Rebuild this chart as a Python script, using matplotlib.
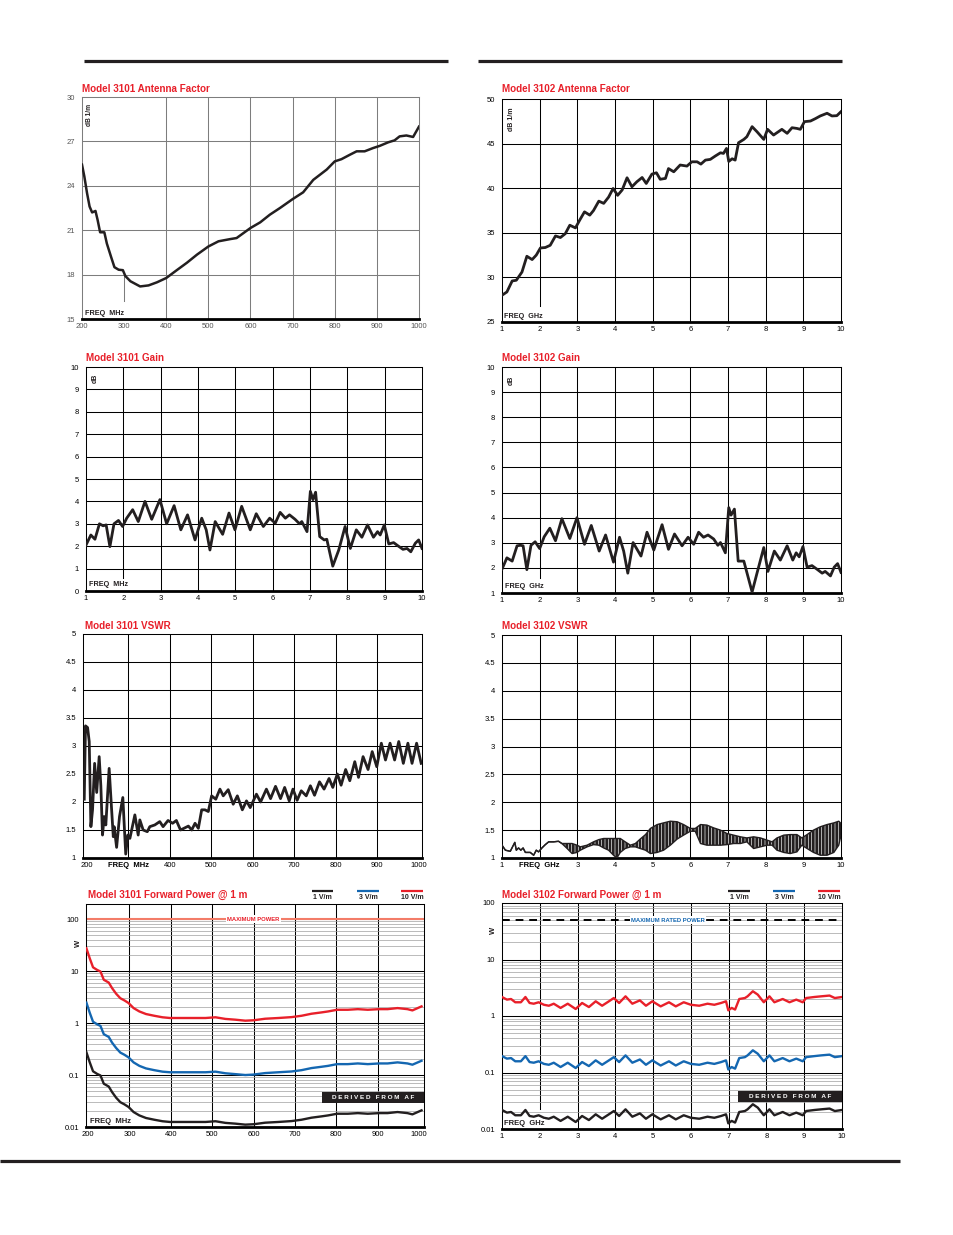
import matplotlib.pyplot as plt
from matplotlib.patches import Rectangle

plt.rcParams['font.family'] = ['Liberation Sans Narrow', 'Liberation Sans', 'DejaVu Sans']
plt.rcParams['hatch.color'] = 'white'
plt.rcParams['hatch.linewidth'] = 0.45

# ---- data ----
# Model 3101 antenna factor (MHz, dB 1/m)
af1_f = [200, 205.5, 212, 218, 224, 232, 237, 243, 253, 259, 269, 277, 287, 297, 303,
         315, 338, 358, 378, 400, 425, 449, 473, 500, 524, 552, 567, 600, 623, 646,
         670, 700, 725, 749, 765, 781, 800, 816, 836, 852, 871, 891, 907, 927, 942,
         954, 970, 986, 1000]
af1_db = [25.43, 24.64, 23.5, 22.6, 22.2, 22.3, 21.7, 20.86, 20.86, 20.1, 19.2, 18.5, 18.33, 18.3, 17.9,
          17.55, 17.2, 17.27, 17.48, 17.77, 18.3, 18.8, 19.35, 19.9, 20.25, 20.4, 20.47, 21.15, 21.53, 22.05,
          22.5, 23.1, 23.56, 24.4, 24.75, 25.1, 25.65, 25.8, 26.1, 26.33, 26.33, 26.55, 26.7, 26.94, 27.07,
          27.34, 27.4, 27.3, 28.0]

# Model 3102 antenna factor (GHz, dB 1/m)
af2_f = [1.00, 1.13, 1.27, 1.38, 1.53, 1.66, 1.80, 1.91, 2.02, 2.15, 2.28, 2.42, 2.55, 2.68, 2.80,
         2.95, 3.06, 3.19, 3.33, 3.43, 3.57, 3.70, 3.83, 3.95, 4.07, 4.19, 4.32, 4.45, 4.58, 4.72,
         4.83, 4.98, 5.10, 5.20, 5.34, 5.42, 5.56, 5.73, 5.91, 6.04, 6.18, 6.28, 6.40, 6.53, 6.66,
         6.80, 6.88, 6.96, 7.02, 7.11, 7.19, 7.28, 7.42, 7.50, 7.64, 7.77, 7.95, 8.05, 8.21, 8.43,
         8.57, 8.70, 8.83, 8.92, 9.03, 9.19, 9.32, 9.45, 9.63, 9.76, 9.89, 10.0]
af2_db = [28.0, 28.37, 29.6, 29.68, 30.6, 32.37, 32.0, 32.5, 33.3, 33.35, 33.6, 34.65, 34.47, 34.9, 35.85,
          35.55, 36.4, 37.35, 36.98, 37.5, 38.55, 38.3, 39.0, 39.97, 39.2, 39.8, 41.17, 40.16, 40.72, 41.2,
          40.53, 41.58, 41.73, 41.0, 41.1, 42.2, 41.84, 42.6, 42.48, 42.96, 42.96, 42.7, 43.15, 43.23, 43.6,
          43.97, 43.9, 44.46, 43.0, 43.3, 43.15, 45.1, 45.47, 45.77, 46.9, 46.33, 45.47, 46.6, 45.96, 46.6,
          46.15, 46.78, 46.7, 46.6, 47.46, 47.53, 47.8, 48.1, 48.4, 48.1, 48.13, 48.58]

# Model 3101 gain (dB)
g1_f = [1.00, 1.13, 1.24, 1.36, 1.46, 1.54, 1.64, 1.75, 1.87, 1.98, 2.09, 2.25, 2.40, 2.58, 2.76,
        2.98, 3.16, 3.36, 3.54, 3.72, 3.92, 4.10, 4.22, 4.32, 4.46, 4.66, 4.83, 4.99, 5.17, 5.40,
        5.56, 5.75, 5.92, 6.07, 6.20, 6.34, 6.45, 6.60, 6.72, 6.78, 6.92, 7.01, 7.08, 7.15, 7.26,
        7.38, 7.45, 7.61, 7.77, 7.94, 8.08, 8.24, 8.39, 8.54, 8.70, 8.81, 8.88, 8.99, 9.11, 9.24,
        9.37, 9.49, 9.60, 9.70, 9.82, 9.91, 10.0]
g1_db = [2.05, 2.5, 2.31, 3.0, 2.91, 2.95, 1.98, 3.0, 3.15, 2.88, 3.25, 3.63, 3.1, 4.0, 3.2,
         4.08, 3.0, 3.81, 2.73, 3.4, 2.28, 3.25, 2.73, 1.83, 3.1, 2.53, 3.48, 2.73, 3.78, 2.73,
         3.45, 2.88, 3.25, 3.03, 3.51, 3.25, 3.4, 3.2, 3.0, 3.1, 2.65, 4.45, 4.08, 4.41, 2.43,
         2.28, 2.31, 1.11, 1.83, 2.88, 1.9, 2.73, 2.4, 2.95, 2.4, 2.65, 2.5, 2.95, 2.1, 2.16,
         2.0, 1.86, 1.9, 1.75, 2.13, 2.28, 1.9]

# Model 3102 gain (dB)
g2_f = [1.00, 1.13, 1.27, 1.40, 1.49, 1.56, 1.66, 1.77, 1.88, 2.00, 2.12, 2.27, 2.42, 2.59, 2.80,
        2.99, 3.19, 3.37, 3.58, 3.75, 3.96, 4.12, 4.23, 4.34, 4.48, 4.69, 4.85, 5.03, 5.25, 5.42,
        5.58, 5.78, 5.94, 6.09, 6.22, 6.35, 6.47, 6.62, 6.73, 6.80, 6.93, 7.02, 7.08, 7.17, 7.27,
        7.42, 7.64, 7.77, 7.95, 8.06, 8.23, 8.39, 8.57, 8.72, 8.81, 8.89, 8.99, 9.10, 9.23, 9.36,
        9.50, 9.58, 9.72, 9.82, 9.91, 10.0]
g2_db = [1.95, 2.4, 2.27, 2.88, 2.9, 2.88, 1.93, 2.9, 3.04, 2.77, 3.24, 3.58, 3.08, 3.96, 3.17,
         4.0, 2.94, 3.69, 2.67, 3.31, 2.23, 3.22, 2.67, 1.79, 3.01, 2.47, 3.42, 2.71, 3.72, 2.74,
         3.35, 2.88, 3.22, 2.94, 3.42, 3.22, 3.31, 3.15, 2.9, 3.01, 2.6, 4.4, 4.1, 4.34, 2.27,
         2.27, 1.04, 1.79, 2.81, 1.86, 2.67, 2.31, 2.88, 2.31, 2.6, 2.44, 2.85, 2.03, 2.09, 1.95,
         1.79, 1.86, 1.68, 2.03, 2.17, 1.82]

# Model 3101 VSWR
v1_f = [194, 197, 202, 206, 210, 214, 219, 224, 230, 234, 238, 242, 246, 254, 260,
        264, 266, 272, 279, 287, 291, 294, 299, 304, 316, 324, 328, 336, 346, 352,
        364, 376, 384, 396, 407, 416, 426, 445, 453, 461, 469, 477, 485, 493, 501,
        511, 521, 529, 541, 553, 563, 575, 585, 594, 609, 619, 633, 643, 655, 667,
        677, 688, 697, 707, 717, 729, 739, 749, 761, 772, 784, 793, 804, 813, 824,
        834, 846, 855, 866, 878, 888, 899, 910, 920, 931, 942, 952, 963, 974, 984,
        995, 1006]
v1_r = [2.05, 3.36, 3.33, 3.08, 1.56, 1.86, 2.69, 2.17, 2.81, 2.29, 1.41, 1.74, 1.59, 2.6, 1.86,
        1.38, 1.56, 1.19, 1.74, 2.08, 1.5, 1.07, 1.41, 1.35, 1.77, 1.41, 1.68, 1.5, 1.47, 1.56,
        1.59, 1.65, 1.56, 1.67, 1.62, 1.67, 1.5, 1.57, 1.5, 1.62, 1.53, 1.86, 1.86, 1.83, 2.11,
        2.05, 2.23, 2.11, 2.22, 1.96, 2.11, 1.86, 2.02, 1.9, 2.14, 2.0, 2.23, 2.06, 2.28, 2.06,
        2.26, 2.02, 2.23, 2.03, 2.2, 2.11, 2.29, 2.12, 2.36, 2.23, 2.42, 2.26, 2.5, 2.3, 2.58,
        2.38, 2.72, 2.44, 2.81, 2.58, 2.9, 2.63, 3.05, 2.75, 3.05, 2.75, 3.08, 2.69, 3.05, 2.69,
        3.05, 2.69]

# Model 3102 VSWR: upper / lower edge of the ripple band
v2_f = [1.00, 1.09, 1.22, 1.31, 1.34, 1.38, 1.44, 1.50, 1.56, 1.62, 1.75, 1.84, 1.91, 1.97, 2.06,
        2.15, 2.24, 2.37, 2.50, 2.59, 2.73, 2.86, 2.99, 3.08, 3.26, 3.43, 3.57, 3.70, 3.83, 3.96,
        4.05, 4.14, 4.27, 4.41, 4.54, 4.67, 4.81, 4.94, 5.12, 5.29, 5.47, 5.65, 5.82, 6.00, 6.13,
        6.27, 6.44, 6.62, 6.80, 6.97, 7.15, 7.33, 7.50, 7.68, 7.86, 8.04, 8.17, 8.30, 8.48, 8.65,
        8.83, 8.96, 9.10, 9.27, 9.45, 9.63, 9.81, 9.94, 10.0]
v2_hi = [1.23, 1.14, 1.12, 1.24, 1.28, 1.14, 1.18, 1.14, 1.18, 1.10, 1.10, 1.05, 1.14, 1.11, 1.18,
         1.24, 1.29, 1.29, 1.30, 1.26, 1.26, 1.26, 1.23, 1.20, 1.23, 1.29, 1.33, 1.35, 1.35, 1.35,
         1.35, 1.35, 1.29, 1.23, 1.26, 1.34, 1.42, 1.53, 1.60, 1.63, 1.66, 1.65, 1.60, 1.53, 1.53,
         1.60, 1.59, 1.54, 1.50, 1.44, 1.41, 1.38, 1.36, 1.38, 1.36, 1.32, 1.29, 1.36, 1.41, 1.42,
         1.42, 1.36, 1.42, 1.50, 1.56, 1.60, 1.63, 1.66, 1.62]
v2_lo = [1.23, 1.14, 1.12, 1.24, 1.28, 1.14, 1.18, 1.14, 1.18, 1.10, 1.10, 1.05, 1.14, 1.11, 1.18,
         1.24, 1.29, 1.29, 1.30, 1.26, 1.17, 1.08, 1.10, 1.14, 1.20, 1.24, 1.23, 1.18, 1.14, 1.05,
         1.00, 1.10, 1.17, 1.20, 1.20, 1.17, 1.14, 1.08, 1.10, 1.14, 1.23, 1.34, 1.41, 1.48, 1.48,
         1.26, 1.23, 1.23, 1.23, 1.24, 1.26, 1.26, 1.29, 1.17, 1.20, 1.23, 1.23, 1.14, 1.10, 1.08,
         1.11, 1.23, 1.17, 1.10, 1.05, 1.05, 1.10, 1.23, 1.41]

# Model 3101 forward power (W) for 1, 3 and 10 V/m
p1_f = [196, 204, 212, 222, 230, 238, 250, 258, 268, 278, 288, 298, 310, 324, 340,
        360, 380, 398, 420, 452, 484, 508, 532, 556, 580, 600, 628, 660, 692, 716,
        740, 764, 780, 802, 828, 852, 876, 904, 924, 948, 972, 984, 1006]
p1_10v = [27.4, 17.6, 11.8, 10.5, 9.8, 6.8, 6.0, 4.7, 3.65, 3.0, 2.72, 2.42, 1.94, 1.67, 1.49,
          1.38, 1.29, 1.25, 1.25, 1.25, 1.25, 1.29, 1.20, 1.16, 1.11, 1.13, 1.21, 1.25, 1.30, 1.38,
          1.51, 1.60, 1.67, 1.80, 1.80, 1.85, 1.80, 1.85, 1.85, 1.94, 1.85, 1.75, 2.09]
p1_3v = [2.47, 1.58, 1.06, 0.945, 0.88, 0.61, 0.54, 0.42, 0.33, 0.27, 0.245, 0.218, 0.175, 0.150, 0.134,
         0.124, 0.116, 0.113, 0.113, 0.113, 0.113, 0.116, 0.108, 0.104, 0.100, 0.102, 0.109, 0.113, 0.117, 0.124,
         0.136, 0.144, 0.150, 0.162, 0.162, 0.167, 0.162, 0.167, 0.167, 0.175, 0.167, 0.158, 0.188]
p1_1v = [0.274, 0.176, 0.118, 0.105, 0.098, 0.068, 0.060, 0.047, 0.0365, 0.030, 0.0272, 0.0242, 0.0194, 0.0167, 0.0149,
         0.0138, 0.0129, 0.0125, 0.0125, 0.0125, 0.0125, 0.0129, 0.0120, 0.0116, 0.0111, 0.0113, 0.0121, 0.0125, 0.0130, 0.0138,
         0.0151, 0.0160, 0.0167, 0.0180, 0.0180, 0.0185, 0.0180, 0.0185, 0.0185, 0.0194, 0.0185, 0.0175, 0.0209]

# Model 3102 forward power (W)
p2_f = [1.00, 1.13, 1.24, 1.35, 1.50, 1.62, 1.73, 1.84, 1.97, 2.11, 2.24, 2.37, 2.55, 2.74, 2.95,
        3.12, 3.30, 3.48, 3.65, 3.83, 3.96, 4.10, 4.27, 4.45, 4.65, 4.81, 4.98, 5.20, 5.42, 5.60,
        5.81, 6.00, 6.22, 6.44, 6.62, 6.80, 6.93, 6.99, 7.08, 7.17, 7.28, 7.43, 7.50, 7.64, 7.77,
        7.93, 8.08, 8.21, 8.43, 8.61, 8.79, 8.96, 9.05, 9.27, 9.45, 9.67, 9.81, 10.0]
p2_10v = [2.17, 1.95, 2.0, 1.75, 1.75, 2.17, 1.70, 1.65, 1.75, 1.58, 1.52, 1.65, 1.39, 1.65, 1.33,
          1.70, 1.44, 1.82, 1.52, 1.82, 2.08, 1.70, 2.23, 1.65, 1.89, 1.52, 1.82, 1.48, 1.75, 1.48,
          1.75, 1.58, 1.52, 1.65, 1.58, 1.70, 1.82, 1.26, 1.39, 1.30, 2.0, 2.08, 2.23, 2.74, 2.39,
          1.75, 2.23, 1.75, 2.0, 1.75, 1.95, 1.75, 2.08, 2.17, 2.23, 2.30, 2.08, 2.17]
p2_3v = [0.195, 0.176, 0.18, 0.158, 0.158, 0.195, 0.153, 0.149, 0.158, 0.142, 0.137, 0.149, 0.125, 0.149, 0.120,
         0.153, 0.130, 0.164, 0.137, 0.164, 0.187, 0.153, 0.201, 0.149, 0.170, 0.137, 0.164, 0.133, 0.158, 0.133,
         0.158, 0.142, 0.137, 0.149, 0.142, 0.153, 0.164, 0.113, 0.125, 0.117, 0.18, 0.187, 0.201, 0.247, 0.215,
         0.158, 0.201, 0.158, 0.18, 0.158, 0.176, 0.158, 0.187, 0.195, 0.201, 0.207, 0.187, 0.195]
p2_1v = [0.0217, 0.0195, 0.020, 0.0175, 0.0175, 0.0217, 0.0170, 0.0165, 0.0175, 0.0158, 0.0152, 0.0165, 0.0139, 0.0165, 0.0133,
         0.0170, 0.0144, 0.0182, 0.0152, 0.0182, 0.0208, 0.0170, 0.0223, 0.0165, 0.0189, 0.0152, 0.0182, 0.0148, 0.0175, 0.0148,
         0.0175, 0.0158, 0.0152, 0.0165, 0.0158, 0.0170, 0.0182, 0.0126, 0.0139, 0.0130, 0.020, 0.0208, 0.0223, 0.0274, 0.0239,
         0.0175, 0.0223, 0.0175, 0.020, 0.0175, 0.0195, 0.0175, 0.0208, 0.0217, 0.0223, 0.0230, 0.0208, 0.0217]

mhz_ticks = [200, 300, 400, 500, 600, 700, 800, 900, 1000]
ghz_ticks = [1, 2, 3, 4, 5, 6, 7, 8, 9, 10]
decades = [0.01, 0.1, 1, 10, 100]
decade_labels = ['0.01', '0.1', '1', '10', '100']

INK = '#231f20'
RED = '#e8202a'
BLUE = '#1467b1'
SALMON = '#f37c68'
W, H = 954, 1235

fig = plt.figure(figsize=(W / 100, H / 100), dpi=100)


def box(l, t, r, b):
    return fig.add_axes([l / W, 1 - b / H, (r - l) / W, (b - t) / H])


def frame(ax, xlim, ylim, xt, xl, yt, yl, gx, gy, col='black', log=False):
    if log:
        ax.set_yscale('log')
    ax.set_xlim(*xlim)
    ax.set_ylim(*ylim)
    ax.set_xticks(xt, xl)
    ax.set_yticks(yt, yl)
    ax.minorticks_off()
    ax.tick_params(length=0, labelsize=5.5, pad=3)
    ax.tick_params(axis='y', pad=5)
    for v in gx:
        ax.axvline(v, color=col, lw=0.75, zorder=1)
    for v in gy:
        ax.axhline(v, color=col, lw=0.75, zorder=1)
    for s in ax.spines.values():
        s.set_color(col)
        s.set_linewidth(0.75)
    ax.spines['bottom'].set_color('black')
    ax.spines['bottom'].set_linewidth(2)


def inner(ax, x, y, s, rot=0, size=5.2):
    ax.text(x, y, s, transform=ax.transAxes, fontsize=size, fontweight='bold',
            rotation=rot, ha='left', va='bottom' if rot == 0 else 'top', color=INK,
            bbox=dict(facecolor='white', edgecolor='none', pad=0.6) if rot == 0 else None)


# --- Model 3101 Antenna Factor ---
ax = box(82, 97, 419, 319)
frame(ax, (200, 1000), (15, 30), mhz_ticks, [str(t) for t in mhz_ticks],
      [15, 18, 21, 24, 27, 30], ['15', '18', '21', '24', '27', '30'],
      [400, 500, 600, 700, 800, 900], [18, 21, 24, 27], col='#7d7d7d')
ax.axvline(300, ymin=0.08, ymax=0.2, color='#7d7d7d', lw=0.75)
ax.plot(af1_f, af1_db, color=INK, lw=1.8, solid_joinstyle='round', zorder=3)
inner(ax, 0.01, 0.01, 'FREQ  MHz')
inner(ax, 0.012, 0.97, 'dB 1/m', rot=90, size=4.8)
for lab in ax.get_xticklabels() + ax.get_yticklabels():
    lab.set_color('#555555')

# --- Model 3102 Antenna Factor ---
ax = box(502, 99, 841, 322)
frame(ax, (1, 10), (25, 50), ghz_ticks, [str(t) for t in ghz_ticks],
      [25, 30, 35, 40, 45, 50], ['25', '30', '35', '40', '45', '50'],
      [3, 4, 5, 6, 7, 8, 9], [30, 35, 40, 45])
ax.axvline(2, ymin=0.07, color='black', lw=0.75, zorder=1)
ax.plot(af2_f, af2_db, color=INK, lw=2, solid_joinstyle='round', zorder=3)
inner(ax, 0.006, 0.01, 'FREQ  GHz')
inner(ax, 0.018, 0.96, 'dB 1/m', rot=90, size=5)

# --- Model 3101 Gain ---
ax = box(86, 367, 422, 591)
frame(ax, (1, 10), (0, 10), ghz_ticks, [str(t) for t in ghz_ticks],
      list(range(11)), [str(t) for t in range(11)],
      [3, 4, 5, 6, 7, 8, 9], list(range(1, 10)))
ax.axvline(2, ymin=0.06, color='black', lw=0.75, zorder=1)
ax.plot(g1_f, g1_db, color=INK, lw=2, solid_joinstyle='round', zorder=3)
inner(ax, 0.01, 0.015, 'FREQ  MHz')
inner(ax, 0.018, 0.97, 'dB', rot=90, size=5)

# --- Model 3102 Gain ---
ax = box(502, 367, 841, 593)
frame(ax, (1, 10), (1, 10), ghz_ticks, [str(t) for t in ghz_ticks],
      list(range(1, 11)), [str(t) for t in range(1, 11)],
      [3, 4, 5, 6, 7, 8, 9], list(range(2, 10)))
ax.axvline(2, ymin=0.065, color='black', lw=0.75, zorder=1)
ax.plot(g2_f, g2_db, color=INK, lw=2, solid_joinstyle='round', zorder=3)
inner(ax, 0.01, 0.015, 'FREQ  GHz')
inner(ax, 0.018, 0.96, 'dB', rot=90, size=5)

# --- Model 3101 VSWR ---
vs_ticks = [1, 1.5, 2, 2.5, 3, 3.5, 4, 4.5, 5]
vs_labels = ['1', '1.5', '2', '2.5', '3', '3.5', '4', '4.5', '5']
ax = box(83, 634, 422, 858)
frame(ax, (191, 1008), (1, 5), mhz_ticks,
      ['200', 'FREQ  MHz', '400', '500', '600', '700', '800', '900', '1000'],
      vs_ticks, vs_labels, [300, 400, 500, 600, 700, 800, 900], vs_ticks[1:-1])
ax.get_xticklabels()[1].set_fontweight('bold')
ax.plot(v1_f, v1_r, color=INK, lw=2, solid_joinstyle='round', zorder=3)

# --- Model 3102 VSWR ---
ax = box(502, 635, 841, 858)
frame(ax, (1, 10), (1, 5), ghz_ticks,
      ['1', 'FREQ  GHz', '3', '4', '5', '6', '7', '8', '9', '10'],
      vs_ticks, vs_labels, [2, 3, 4, 5, 6, 7, 8, 9], vs_ticks[1:-1])
ax.get_xticklabels()[1].set_fontweight('bold')
# dense ripple: dark band with fine vertical gaps
ax.fill_between(v2_f, v2_lo, v2_hi, facecolor=INK, edgecolor='none', hatch='|||||', lw=0, zorder=3)
ax.plot(v2_f, v2_hi, color=INK, lw=1.0, zorder=3)
ax.plot(v2_f, v2_lo, color=INK, lw=1.0, zorder=3)


def power_grid(ax, top):
    for d in decades:
        for k in range(2, 10):
            if d * k < top:
                ax.axhline(d * k, color='#a0a0a0', lw=0.5, zorder=1)


# --- Model 3101 Forward Power ---
ax = box(86, 904, 424, 1127)
frame(ax, (195, 1012), (0.01, 195), mhz_ticks, [str(t) for t in mhz_ticks],
      decades, decade_labels, [400, 500, 600, 700, 800, 900], [0.1, 1, 10, 100], log=True)
ax.axvline(300, ymin=0.09, color='black', lw=0.75, zorder=1)
power_grid(ax, 195)
ax.axhline(100, color=SALMON, lw=1.5, zorder=2)
ax.text(600, 100, 'MAXIMUM POWER', ha='center', va='center', color=RED, fontsize=4.2,
        fontweight='bold', zorder=4, bbox=dict(facecolor='white', edgecolor='none', pad=0.8))
ax.plot(p1_f, p1_10v, color=RED, lw=1.7, zorder=3)
ax.plot(p1_f, p1_3v, color=BLUE, lw=1.7, zorder=3)
ax.plot(p1_f, p1_1v, color=INK, lw=1.7, zorder=3)
inner(ax, 0.012, 0.01, 'FREQ  MHz', size=5.5)

# --- Model 3102 Forward Power ---
ax = box(502, 903, 842, 1129)
frame(ax, (1, 10), (0.01, 100), ghz_ticks, [str(t) for t in ghz_ticks],
      decades, decade_labels, [3, 4, 5, 6, 7, 8, 9], [0.1, 1, 10], log=True)
ax.axvline(2, ymin=0.09, color='black', lw=0.75, zorder=1)
power_grid(ax, 100)
ax.axhline(50, color='black', lw=1.4, dashes=(4, 3), zorder=2)
ax.text(5.4, 50, 'MAXIMUM RATED POWER', ha='center', va='center', color=BLUE, fontsize=4.2,
        fontweight='bold', zorder=4, bbox=dict(facecolor='white', edgecolor='none', pad=0.8))
ax.plot(p2_f, p2_10v, color=RED, lw=1.7, zorder=3)
ax.plot(p2_f, p2_3v, color=BLUE, lw=1.7, zorder=3)
ax.plot(p2_f, p2_1v, color=INK, lw=1.7, zorder=3)
inner(ax, 0.006, 0.01, 'FREQ  GHz', size=5.5)

# ---- page furniture drawn in pixel space ----
ov = fig.add_axes([0, 0, 1, 1], zorder=10)
ov.set_xlim(0, W)
ov.set_ylim(H, 0)
ov.axis('off')
ov.patch.set_alpha(0)

ov.plot([84, 448], [60.5, 60.5], color=INK, lw=2.3, solid_capstyle='butt')
ov.plot([478, 842], [60.5, 60.5], color=INK, lw=2.3, solid_capstyle='butt')
ov.plot([0, 900], [1161, 1161], color=INK, lw=2.3, solid_capstyle='butt')

titles = [(82, 89, 'Model 3101 Antenna Factor'), (502, 89, 'Model 3102 Antenna Factor'),
          (86, 358, 'Model 3101 Gain'), (502, 358, 'Model 3102 Gain'),
          (85, 626, 'Model 3101 VSWR'), (502, 626, 'Model 3102 VSWR'),
          (88, 895, 'Model 3101 Forward Power @ 1 m'), (502, 895, 'Model 3102 Forward Power @ 1 m')]
for x, y, s in titles:
    ov.text(x, y, s, color=RED, fontsize=7.1, fontweight='bold', ha='left', va='center')

# W axis labels
ov.text(78, 943, 'W', rotation=90, fontsize=5.5, fontweight='bold', ha='center', va='center', color=INK)
ov.text(493, 930, 'W', rotation=90, fontsize=5.5, fontweight='bold', ha='center', va='center', color=INK)

# legends
leg = [((312, 333), 322, INK, '1 V/m'), ((357, 379), 368, BLUE, '3 V/m'), ((401, 423), 412, RED, '10 V/m'),
       ((728, 750), 739, INK, '1 V/m'), ((773, 795), 784, BLUE, '3 V/m'), ((818, 840), 829, RED, '10 V/m')]
for (x0, x1), xc, c, s in leg:
    ov.plot([x0, x1], [891, 891], color=c, lw=1.6, solid_capstyle='butt')
    ov.text(xc, 897.5, s, fontsize=5, fontweight='bold', ha='center', va='center', color=INK)

# "derived from AF" tags
for x0, y0, x1, y1 in [(322, 1092, 424, 1103), (738, 1091, 842, 1102)]:
    ov.add_patch(Rectangle((x0, y0), x1 - x0, y1 - y0, facecolor=INK, edgecolor='none'))
    ov.text((x0 + x1) / 2, (y0 + y1) / 2 + 0.3, 'D E R I V E D   F R O M   A F', color='white',
            fontsize=4.6, fontweight='bold', ha='center', va='center')

fig.savefig('out.png', dpi=100)
